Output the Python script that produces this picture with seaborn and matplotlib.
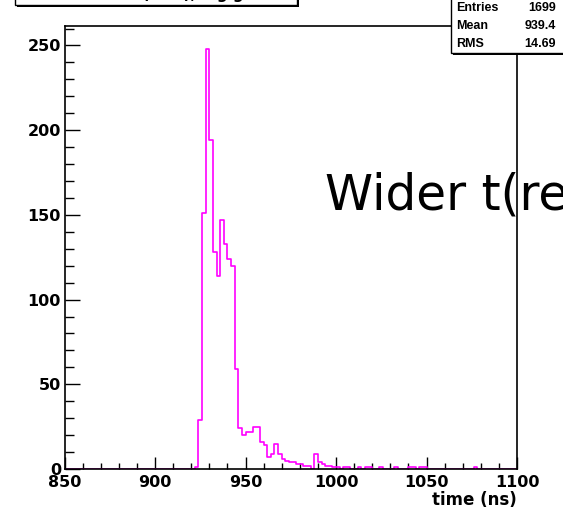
import numpy as np
import pandas as pd
import matplotlib
matplotlib.use("Agg")
import matplotlib.pyplot as plt
import seaborn as sns
from matplotlib.patches import Rectangle
from matplotlib.ticker import MultipleLocator, FixedLocator

# ---- data (2 ns bins) ----
bin_left = [922, 924, 926, 928, 930, 932, 934, 936, 938, 940, 942, 944, 946, 948,
            950, 952, 954, 956, 958, 960, 962, 964, 966, 968, 970, 972, 974, 976,
            978, 980, 982, 984, 988, 990, 992, 994, 996, 998, 1000, 1004, 1006,
            1012, 1016, 1018, 1024, 1032, 1040, 1042, 1046, 1048, 1076]
counts = [1, 29, 151, 248, 194, 128, 114, 147, 133, 124, 120, 59, 24, 20,
          22, 22, 25, 25, 16, 14, 7, 9, 15, 9, 6, 5, 4, 4,
          3, 3, 2, 2, 9, 4, 3, 2, 2, 1, 1, 1, 1,
          1, 1, 1, 1, 1, 1, 1, 1, 1, 1]

bin_width = 2
x_range = (850, 1100)
y_max = 261.5
x_ticks = [850, 900, 950, 1000, 1050, 1100]
y_ticks = [0, 50, 100, 150, 200, 250]
stats_labels = ["Entries", "Mean", "RMS"]
stats_values = ["1699", "939.4", "14.69"]
x_label = "time (ns)"
overlay_text = "Wider t(re"
title_text = "Hit time (TDC), log g"

# ---- figure ----
sns.set_style("white")
W, H = 563, 513
fig = plt.figure(figsize=(W / 100, H / 100), dpi=100)
fig.patch.set_facecolor("white")

ax_l, ax_r, ax_t, ax_b = 64.5, 517.0, 26.0, 469.0
ax = fig.add_axes([ax_l / W, 1 - ax_b / H, (ax_r - ax_l) / W, (ax_b - ax_t) / H])

df = pd.DataFrame({"time": np.array(bin_left, dtype=float) + bin_width / 2,
                   "n": np.array(counts, dtype=float)})
sns.histplot(data=df, x="time", weights="n", binwidth=bin_width,
             binrange=x_range, element="step", fill=False, color="#ff00ff",
             linewidth=1.2, ax=ax, zorder=1)

ax.set_xlim(*x_range)
ax.set_ylim(0, y_max)
ax.set_xlabel("")
ax.set_ylabel("")

for s in ax.spines.values():
    s.set_color("black")
    s.set_linewidth(1.2)
    s.set_zorder(3)

ax.xaxis.set_major_locator(FixedLocator(x_ticks))
ax.yaxis.set_major_locator(FixedLocator(y_ticks))
ax.xaxis.set_minor_locator(MultipleLocator(10))
ax.yaxis.set_minor_locator(MultipleLocator(10))
ax.tick_params(axis="x", which="major", direction="in", length=8.8, width=1.0,
               color="black", pad=4, top=False, bottom=True)
ax.tick_params(axis="x", which="minor", direction="in", length=4.2, width=1.0,
               color="black", top=False, bottom=True)
ax.tick_params(axis="y", which="major", direction="in", length=10.8, width=1.0,
               color="black", pad=2.6, right=False, left=True)
ax.tick_params(axis="y", which="minor", direction="in", length=6.5, width=1.0,
               color="black", right=False, left=True)

ax.set_xticks(x_ticks)
ax.set_xticklabels([str(v) for v in x_ticks], fontsize=11.5, fontweight="bold",
                   family="DejaVu Sans", color="black")
ax.set_yticks(y_ticks)
ax.set_yticklabels([str(v) for v in y_ticks], fontsize=11.5, fontweight="bold",
                   family="DejaVu Sans", color="black")

fig.text(ax_r / W, 1 - 500 / H, x_label, ha="right", va="center",
         fontsize=12, fontweight="bold", family="DejaVu Sans", color="black")

# ---- title pave (mostly off the top of the canvas) ----
fig.patches.append(Rectangle((17 / W, 1 - 6.5 / H), 282 / W, 40 / H,
                             transform=fig.transFigure, facecolor="black",
                             edgecolor="none", zorder=5))
fig.patches.append(Rectangle((15 / W, 1 - 4.5 / H), 282 / W, 40 / H,
                             transform=fig.transFigure, facecolor="white",
                             edgecolor="black", linewidth=1.0, zorder=6))
fig.text(156 / W, 1 + 1.5 / H, title_text, ha="center", va="baseline",
         fontsize=11, fontweight="bold", family="DejaVu Sans", color="black",
         zorder=7)

# ---- stats box ----
sb_l, sb_b = 451, 53
fig.patches.append(Rectangle(((sb_l + 2) / W, 1 - (sb_b + 2) / H), 200 / W, 80 / H,
                             transform=fig.transFigure, facecolor="black",
                             edgecolor="none", zorder=5))
fig.patches.append(Rectangle((sb_l / W, 1 - sb_b / H), 200 / W, 80 / H,
                             transform=fig.transFigure, facecolor="white",
                             edgecolor="black", linewidth=1.0, zorder=6))
row_y = [8, 26, 44]
for lab, val, yy in zip(stats_labels, stats_values, row_y):
    fig.text(456 / W, 1 - yy / H, lab, ha="left", va="center", fontsize=9,
             fontweight="bold", family="Liberation Sans", color="black", zorder=7)
    fig.text(556 / W, 1 - yy / H, val, ha="right", va="center", fontsize=9,
             fontweight="bold", family="Liberation Sans", color="black", zorder=7)

# ---- overlay text ----
fig.text(325 / W, 1 - 210 / H, overlay_text, ha="left", va="baseline",
         fontsize=35, family="DejaVu Sans", color="black", zorder=8)

fig.savefig("out.png", dpi=100, facecolor="white")
